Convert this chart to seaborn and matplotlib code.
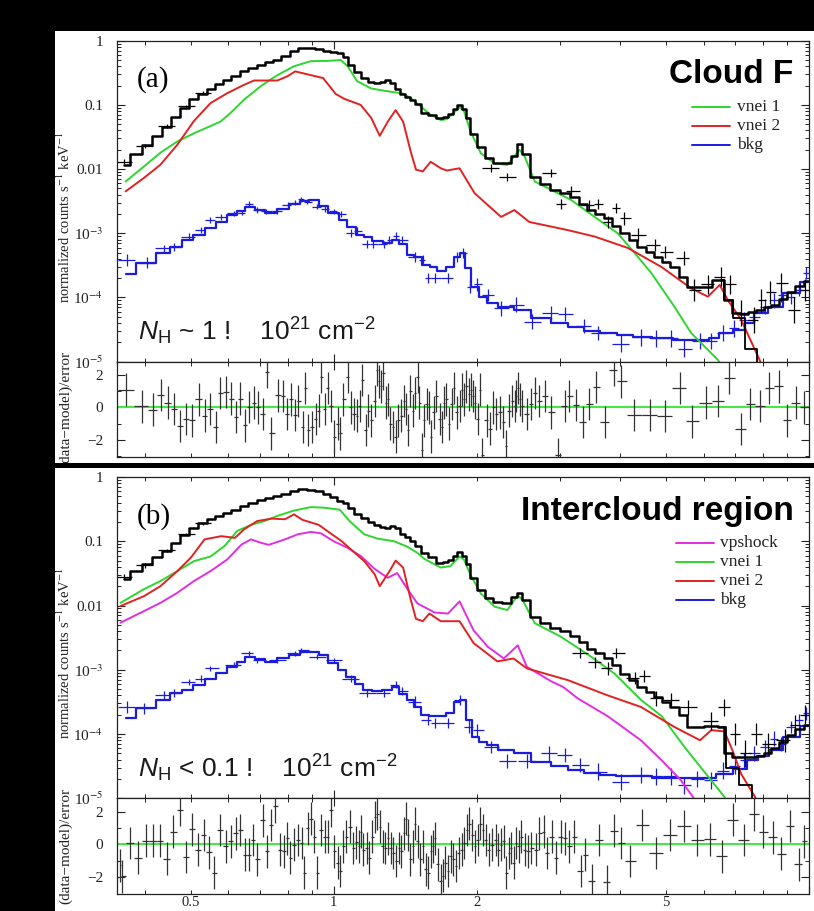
import numpy as np
import matplotlib
matplotlib.use("Agg")
import matplotlib.pyplot as plt
from matplotlib import ticker
from matplotlib.patches import Rectangle
import seaborn as sns

# ---------------- panel (a): Cloud F ----------------
# model components (keV, normalized counts s^-1 keV^-1)
vnei1_a_e = [0.365, 0.399, 0.432, 0.469, 0.508, 0.551, 0.578, 0.607, 0.648, 0.702,
             0.761, 0.825, 0.895, 0.970, 1.035, 1.07, 1.12, 1.20, 1.30, 1.40,
             1.452, 1.526, 1.60, 1.68, 1.73, 1.84, 1.88, 1.94, 2.04, 2.18,
             2.32, 2.46, 2.52, 2.65, 2.92, 3.16, 3.54, 3.96, 4.30, 4.66,
             5.21, 5.65, 6.43, 6.6]
vnei1_a_v = [0.0064, 0.011, 0.018, 0.027, 0.036, 0.047, 0.055, 0.075, 0.121, 0.195,
             0.29, 0.40, 0.48, 0.485, 0.50, 0.40, 0.235, 0.18, 0.163, 0.15,
             0.128, 0.094, 0.07, 0.058, 0.06, 0.092, 0.08, 0.039, 0.0176, 0.0123,
             0.0116, 0.020, 0.016, 0.0064, 0.00445, 0.0033, 0.0018, 0.001, 0.00049, 0.00024,
             7.2e-5, 2.8e-5, 1.07e-5, 8e-6]

vnei2_a_e = [0.365, 0.399, 0.432, 0.469, 0.508, 0.551, 0.597, 0.648, 0.68, 0.73,
             0.761, 0.80, 0.83, 0.88, 0.95, 1.01, 1.051, 1.14, 1.20, 1.25,
             1.30, 1.35, 1.40, 1.452, 1.49, 1.54, 1.60, 1.68, 1.73, 1.84,
             1.98, 2.25, 2.40, 2.58, 3.11, 3.54, 4.16, 4.89, 5.65, 6.13,
             6.49, 6.75, 7.2, 7.87, 8.0]
vnei2_a_v = [0.0045, 0.0073, 0.0117, 0.024, 0.056, 0.107, 0.152, 0.206, 0.24, 0.24,
             0.24, 0.28, 0.333, 0.30, 0.262, 0.148, 0.125, 0.10, 0.0625, 0.033,
             0.055, 0.083, 0.055, 0.0189, 0.0098, 0.0092, 0.013, 0.0103, 0.0095, 0.0103,
             0.0042, 0.0018, 0.0023, 0.0015, 0.00112, 0.00089, 0.00059, 0.0003, 0.000139, 0.000103,
             0.000157, 9.1e-5, 4.5e-5, 1.07e-5, 8e-6]

# background model (step)
bkg_a_e = [0.365, 0.404, 0.44, 0.467, 0.494, 0.52, 0.55, 0.58, 0.61, 0.64,
           0.663, 0.70, 0.737, 0.78, 0.83, 0.87, 0.909, 0.95, 1.0, 1.05,
           1.086, 1.14, 1.177, 1.236, 1.30, 1.35, 1.40, 1.45, 1.50, 1.574,
           1.62, 1.68, 1.77, 1.82, 1.87, 1.91, 1.98, 2.06, 2.14, 2.3,
           2.48, 2.73, 3.0, 3.21, 3.5, 3.78, 4.1, 4.44, 4.9, 5.47,
           6.0, 6.32, 6.64, 7.2, 7.44, 7.92, 8.46, 9.17, 9.97]
bkg_a_v = [0.000235, 0.00034, 0.00049, 0.00062, 0.00078, 0.00095, 0.0012, 0.0015, 0.0019, 0.0022,
           0.0026, 0.0023, 0.00205, 0.0024, 0.0029, 0.0032, 0.0033, 0.0027, 0.0021, 0.0016,
           0.00127, 0.00095, 0.00089, 0.00075, 0.0007, 0.0008, 0.00067, 0.00046, 0.00042, 0.00032,
           0.0003, 0.00026, 0.0003, 0.00043, 0.0005, 0.00029, 0.000147, 0.0001, 8.1e-5, 7e-5,
           6.4e-5, 4.8e-5, 4e-5, 3.5e-5, 3.0e-5, 2.75e-5, 2.6e-5, 2.45e-5, 2.3e-5, 2.2e-5,
           2.2e-5, 2.3e-5, 2.75e-5, 3.1e-5, 4.0e-5, 5.7e-5, 7.2e-5, 0.000118, 0.000177]

# total model (step), same bins for both panels
tot_e = [0.362, 0.385, 0.405, 0.425, 0.445, 0.465, 0.485, 0.508, 0.53, 0.551,
         0.575, 0.597, 0.62, 0.648, 0.675, 0.702, 0.73, 0.761, 0.79, 0.825,
         0.86, 0.895, 0.93, 0.965, 1.0, 1.035, 1.06, 1.085, 1.12, 1.16,
         1.2, 1.236, 1.27, 1.30, 1.33, 1.36, 1.40, 1.43, 1.47, 1.50,
         1.553, 1.61, 1.68, 1.72, 1.76, 1.80, 1.84, 1.88, 1.91, 1.96,
         2.04, 2.12, 2.21, 2.32, 2.40, 2.46, 2.52, 2.65, 2.78, 2.92,
         3.06, 3.21, 3.35, 3.48, 3.63, 3.78, 3.93, 4.09, 4.26, 4.44,
         4.62, 4.81, 5.0, 5.21, 5.43, 5.65, 5.9, 6.13, 6.36, 6.52,
         6.75, 7.0, 7.3, 7.6, 7.9, 8.2, 8.46, 8.8, 9.17, 9.55, 9.97]
tot_a_v = [0.0117, 0.017, 0.024, 0.033, 0.045, 0.065, 0.09, 0.125, 0.15, 0.18,
           0.21, 0.245, 0.28, 0.333, 0.38, 0.423, 0.46, 0.50, 0.58, 0.70,
           0.77, 0.77, 0.74, 0.70, 0.67, 0.65, 0.55, 0.423, 0.32, 0.262,
           0.23, 0.22, 0.23, 0.245, 0.22, 0.18, 0.15, 0.135, 0.12, 0.105,
           0.074, 0.07, 0.062, 0.065, 0.073, 0.085, 0.1, 0.085, 0.062, 0.035,
           0.022, 0.015, 0.0123, 0.0123, 0.016, 0.025, 0.017, 0.0076, 0.0058, 0.0047,
           0.0042, 0.0037, 0.0029, 0.0023, 0.002, 0.0017, 0.0013, 0.001, 0.0008, 0.00062,
           0.00052, 0.00043, 0.00036, 0.0003, 0.00021, 0.000147, 0.000147, 0.000147, 0.000187, 0.000187,
           9.1e-5, 5.8e-5, 5.6e-5, 6.0e-5, 6.3e-5, 7.0e-5, 7.6e-5, 9.5e-5, 0.00012, 0.00015, 0.00018]
src_a_e = [6.52, 6.75, 7.08, 7.6, 7.95]
src_a_v = [0.000187, 9.1e-5, 4.8e-5, 1.6e-5, 8e-6]

# source data (black crosses) and background data (blue crosses)
dat_a_e = [0.362, 0.40, 0.445, 0.49, 0.53, 2.14, 2.32, 2.86, 3.01, 3.16,
           3.45, 3.6, 3.77, 3.93, 4.09, 4.37, 4.74, 4.97, 5.47, 5.74,
           6.13, 6.52, 6.83, 7.2, 7.67, 7.92, 8.3, 8.74, 9.32, 9.8]
dat_a_v = [0.013, 0.023, 0.047, 0.095, 0.155, 0.0103, 0.0076, 0.0086, 0.0029, 0.0045,
           0.0028, 0.0029, 0.0015, 0.0025, 0.0017, 0.00095, 0.00066, 0.00051, 0.00041, 0.00013,
           0.00016, 0.00021, 0.00016, 5.7e-5, 4.5e-5, 9e-5, 1.2e-4, 1.7e-4, 6.4e-5, 1.3e-4]
dat_a_f = [0.1, 0.08, 0.06, 0.05, 0.05, 0.15, 0.15, 0.15, 0.2, 0.2,
           0.2, 0.2, 0.25, 0.2, 0.25, 0.25, 0.25, 0.25, 0.3, 0.5,
           0.4, 0.4, 0.4, 0.6, 0.6, 0.5, 0.5, 0.4, 0.6, 0.5]

bkgd_a_e = [0.367, 0.405, 0.439, 0.461, 0.496, 0.525, 0.55, 0.578, 0.617, 0.64,
            0.663, 0.69, 0.72, 0.761, 0.8, 0.83, 0.852, 0.88, 0.924, 0.96,
            1.0, 1.035, 1.086, 1.12, 1.177, 1.21, 1.276, 1.31, 1.35, 1.39,
            1.48, 1.54, 1.58, 1.63, 1.74, 1.82, 1.87, 1.94, 2.0, 2.11,
            2.25, 2.42, 2.62, 2.86, 3.06, 3.37, 3.6, 4.02, 4.43, 4.77,
            5.12, 5.47, 5.89, 6.23, 6.59, 6.97, 7.3, 7.67, 8.1, 8.46,
            8.75, 9.17, 9.55, 9.88]
bkgd_a_v = [0.00038, 0.00035, 0.00058, 0.00062, 0.00089, 0.00112, 0.00161, 0.0018, 0.00205, 0.0021,
            0.0029, 0.0023, 0.0022, 0.0022, 0.0028, 0.003, 0.0034, 0.0031, 0.0026, 0.0024,
            0.0022, 0.002, 0.001, 0.0011, 0.00069, 0.00067, 0.00067, 0.00078, 0.00091, 0.00078,
            0.00043, 0.00038, 0.0002, 0.0002, 0.0002, 0.00043, 0.0005, 0.000148, 0.00016, 0.00011,
            6.8e-5, 7.7e-5, 4.2e-5, 5.7e-5, 5.5e-5, 3.6e-5, 2.8e-5, 1.9e-5, 2.4e-5, 2.3e-5,
            2.3e-5, 1.6e-5, 2.1e-5, 2.1e-5, 2.8e-5, 3.3e-5, 4.4e-5, 5e-5, 7.2e-5, 9e-5,
            1.1e-4, 1.0e-4, 1.3e-4, 2.4e-4]
bkgd_a_f = [0.25, 0.2, 0.15, 0.15, 0.12, 0.12, 0.1, 0.1, 0.1, 0.1,
            0.1, 0.1, 0.1, 0.1, 0.1, 0.1, 0.1, 0.1, 0.1, 0.1,
            0.1, 0.1, 0.15, 0.15, 0.15, 0.15, 0.15, 0.15, 0.15, 0.15,
            0.2, 0.2, 0.2, 0.2, 0.2, 0.2, 0.2, 0.25, 0.25, 0.25,
            0.3, 0.3, 0.3, 0.3, 0.3, 0.3, 0.3, 0.35, 0.35, 0.35,
            0.35, 0.35, 0.35, 0.35, 0.35, 0.35, 0.35, 0.3, 0.3, 0.3,
            0.3, 0.25, 0.25, 0.25]

# residuals (data-model)/error
res_a_e = [0.366, 0.395, 0.417, 0.433, 0.448, 0.462, 0.475, 0.489, 0.503, 0.520,
           0.535, 0.549, 0.565, 0.577, 0.594, 0.609, 0.623, 0.636, 0.650, 0.665,
           0.679, 0.694, 0.709, 0.725, 0.738, 0.765, 0.782, 0.799, 0.813, 0.829,
           0.843, 0.862, 0.871, 0.885, 0.900, 0.916, 0.930, 0.940, 0.957, 0.971,
           0.986, 1.003, 1.019, 1.032, 1.048, 1.071, 1.085, 1.106, 1.118, 1.136,
           1.148, 1.168, 1.181, 1.199, 1.220, 1.235, 1.246, 1.260, 1.273, 1.287,
           1.301, 1.315, 1.335, 1.350, 1.368, 1.389, 1.404, 1.419, 1.435, 1.450,
           1.470, 1.482, 1.502, 1.515, 1.535, 1.548, 1.568, 1.589, 1.603, 1.624,
           1.645, 1.670, 1.688, 1.707, 1.725, 1.748, 1.771, 1.794, 1.814, 1.842,
           1.862, 1.882, 1.903, 1.923, 1.944, 1.965, 1.987, 2.008, 2.034, 2.052,
           2.097, 2.133, 2.166, 2.199, 2.238, 2.276, 2.301, 2.336, 2.377, 2.403,
           2.424, 2.440, 2.466, 2.493, 2.547, 2.603, 2.649, 2.706, 2.778, 2.870,
           2.965, 3.062, 3.130, 3.233, 3.339, 3.450, 3.563, 3.721, 3.887, 4.015,
           4.283, 4.622, 4.986, 5.345, 5.679, 6.063, 6.441, 6.800, 7.211, 7.530,
           7.880, 8.260, 8.650, 9.010, 9.370, 9.780]
res_a_v = [1.1, 0.06, -0.14, 0.76, 0.3, -0.1, -1.14, -0.7, -0.8, 0.5,
           -0.5, -0.1, -1.2, 0.9, 0.94, 0.54, -0.6, 0.54, -1.1, 0.04,
           0.3, 0.0, -0.4, 2.2, -1.6, 0.74, 0.7, -0.4, 0.5, -0.46,
           0.4, -1.2, 1.2, -1.4, -1.2, -0.7, -0.2, 1.9, -0.1, 1.2,
           0.1, -1.8, -1.0, -1.6, 0.5, 1.9, 0.0, -0.4, -0.5, 0.1,
           1.7, -1.4, -0.2, -0.8, 0.4, 2.3, 1.6, 1.3, 2.1, 0.3,
           0.5, -1.0, -1.2, -1.8, -0.8, -0.5, 0.4, -0.1, -1.4, 1.0,
           -0.2, 0.9, 1.9, 0.3, -2.6, -0.8, 0.2, 0.0, -1.8, -0.3,
           0.7, -0.7, -1.2, 0.3, 0.5, -1.0, 0.2, 1.2, -0.3, 0.1,
           1.1, 0.5, 1.3, 0.8, 1.1, 0.7, 0.3, -0.7, 1.1, -2.9,
           -0.8, -1.3, 0.0, -0.4, -0.3, -0.9, -2.4, -0.2, 0.4, 0.1,
           0.7, 1.2, 0.5, 0.1, -0.4, 0.2, 0.9, 0.4, 0.7, -0.3,
           -2.9, 0.1, 0.7, 0.14, -0.9, 0.2, 1.26, -0.9, 2.3, 1.6,
           -0.46, -0.46, -0.54, 1.2, -0.86, 0.3, 0.4, 1.8, -1.34, 0.2,
           0.1, 1.2, 1.3, -0.8, 0.3, 0.0]

# ---------------- panel (b): Intercloud region ----------------
vpshock_b_e = [0.356, 0.399, 0.432, 0.469, 0.508, 0.551, 0.597, 0.64, 0.67, 0.702,
               0.73, 0.79, 0.84, 0.895, 0.94, 1.0, 1.07, 1.14, 1.22, 1.30,
               1.36, 1.43, 1.50, 1.63, 1.74, 1.84, 1.97, 2.11, 2.28, 2.44,
               2.55, 2.87, 3.04, 3.26, 3.77, 4.43, 4.9, 5.38, 5.7, 5.8]
vpshock_b_v = [0.0054, 0.0082, 0.011, 0.0158, 0.024, 0.0344, 0.052, 0.089, 0.107, 0.095,
               0.088, 0.107, 0.128, 0.14, 0.133, 0.10, 0.079, 0.059, 0.037, 0.027,
               0.032, 0.018, 0.0108, 0.0078, 0.0075, 0.0116, 0.0041, 0.00228, 0.0015, 0.0024,
               0.00111, 0.00066, 0.00054, 0.00036, 0.00019, 8.0e-5, 3.9e-5, 1.9e-5, 1.05e-5, 8e-6]

vnei1_b_e = [0.356, 0.399, 0.432, 0.469, 0.508, 0.551, 0.59, 0.627, 0.67, 0.715,
             0.761, 0.825, 0.895, 0.955, 1.03, 1.08, 1.16, 1.236, 1.34, 1.43,
             1.50, 1.553, 1.61, 1.68, 1.76, 1.84, 1.88, 1.94, 2.04, 2.18,
             2.32, 2.44, 2.50, 2.65, 3.0, 3.48, 3.9, 4.43, 4.9, 5.47,
             6.13, 6.64, 6.8]
vnei1_b_v = [0.011, 0.018, 0.024, 0.0344, 0.049, 0.058, 0.085, 0.145, 0.18, 0.206,
             0.248, 0.30, 0.34, 0.333, 0.31, 0.206, 0.128, 0.11, 0.10, 0.082,
             0.066, 0.053, 0.046, 0.039, 0.041, 0.058, 0.052, 0.03, 0.0154, 0.0096,
             0.0085, 0.0145, 0.012, 0.0053, 0.0033, 0.0016, 0.00087, 0.00034, 0.00019, 6.3e-5,
             2.2e-5, 1.05e-5, 8e-6]

vnei2_b_e = [0.356, 0.399, 0.432, 0.469, 0.50, 0.535, 0.58, 0.62, 0.648, 0.69,
             0.74, 0.79, 0.825, 0.86, 0.93, 0.97, 1.04, 1.10, 1.16, 1.22,
             1.25, 1.31, 1.35, 1.40, 1.45, 1.49, 1.54, 1.59, 1.68, 1.84,
             1.97, 2.21, 2.39, 2.55, 3.11, 3.77, 4.43, 5.21, 5.9, 6.23,
             6.64, 6.9, 7.2, 7.7, 7.8]
vnei2_b_v = [0.0098, 0.014, 0.020, 0.0344, 0.055, 0.107, 0.12, 0.113, 0.153, 0.206,
             0.225, 0.22, 0.262, 0.215, 0.18, 0.144, 0.10, 0.069, 0.049, 0.0305,
             0.020, 0.034, 0.05, 0.039, 0.013, 0.0062, 0.0057, 0.0075, 0.0057, 0.0057,
             0.0026, 0.00135, 0.0015, 0.00105, 0.00069, 0.0004, 0.000264, 0.000129, 8.0e-5, 0.000115,
             0.00011, 5.6e-5, 2.4e-5, 1.05e-5, 8e-6]

bkg_b_e = [0.365, 0.404, 0.44, 0.467, 0.494, 0.52, 0.55, 0.58, 0.61, 0.64,
           0.663, 0.70, 0.737, 0.78, 0.83, 0.87, 0.909, 0.95, 1.0, 1.04,
           1.086, 1.13, 1.177, 1.23, 1.30, 1.35, 1.40, 1.45, 1.50, 1.553,
           1.62, 1.68, 1.77, 1.82, 1.87, 1.93, 1.98, 2.06, 2.14, 2.3,
           2.48, 2.73, 3.0, 3.21, 3.5, 3.77, 4.1, 4.43, 4.9, 5.5,
           6.13, 6.64, 7.2, 7.65, 8.0, 8.46, 9.17, 9.95]
bkg_b_v = [0.000175, 0.00025, 0.00034, 0.00043, 0.00048, 0.00058, 0.00072, 0.0009, 0.0011, 0.0013,
           0.0016, 0.00145, 0.00133, 0.0015, 0.0017, 0.0019, 0.0019, 0.0017, 0.00126, 0.001,
           0.00078, 0.0006, 0.00048, 0.00046, 0.00048, 0.00054, 0.00042, 0.00034, 0.00026, 0.0002,
           0.00019, 0.00019, 0.00021, 0.00032, 0.00034, 0.000164, 9e-5, 7.5e-5, 6.7e-5, 5.7e-5,
           5.0e-5, 3.7e-5, 3.2e-5, 2.75e-5, 2.5e-5, 2.3e-5, 2.25e-5, 2.2e-5, 2.1e-5, 2.1e-5,
           2.1e-5, 2.4e-5, 2.9e-5, 3.9e-5, 4.6e-5, 5.6e-5, 9e-5, 0.000135]

tot_b_v = [0.026, 0.035, 0.044, 0.057, 0.07, 0.095, 0.125, 0.163, 0.19, 0.22,
           0.25, 0.28, 0.31, 0.35, 0.40, 0.44, 0.47, 0.50, 0.55, 0.61,
           0.64, 0.63, 0.60, 0.55, 0.49, 0.43, 0.39, 0.33, 0.27, 0.23,
           0.20, 0.18, 0.165, 0.163, 0.17, 0.16, 0.13, 0.115, 0.1, 0.083,
           0.065, 0.057, 0.046, 0.047, 0.052, 0.06, 0.067, 0.058, 0.045, 0.027,
           0.0175, 0.013, 0.0115, 0.011, 0.0135, 0.0154, 0.012, 0.0066, 0.0053, 0.0045,
           0.004, 0.0033, 0.0027, 0.0021, 0.0018, 0.00152, 0.0012, 0.00087, 0.0007, 0.00054,
           0.00045, 0.00038, 0.00032, 0.000264, 0.0002, 0.000129, 0.000129, 0.000135, 0.000135, 0.000129,
           5.0e-5, 4.4e-5, 4.4e-5, 4.4e-5, 4.6e-5, 5.0e-5, 6.0e-5, 7.5e-5, 9.5e-5, 0.00012, 0.00014]
src_b_e = [6.52, 6.85, 7.4, 7.75]
src_b_v = [0.000129, 3.0e-5, 1.6e-5, 8e-6]

dat_b_e = [0.362, 0.40, 0.445, 0.49, 0.53, 3.3, 3.55, 3.77, 3.93, 4.3,
           4.5, 4.77, 5.12, 5.57, 6.23, 6.64, 7.0, 7.35, 7.75, 8.2,
           8.9, 9.35, 9.8]
dat_b_v = [0.028, 0.042, 0.072, 0.13, 0.19, 0.0018, 0.0013, 0.00105, 0.0018, 0.00075,
           0.0008, 0.00036, 0.00034, 0.00026, 0.00016, 0.00026, 0.0001, 5e-5, 0.0001, 7e-5,
           8e-5, 0.00014, 0.0002]
dat_b_f = [0.1, 0.08, 0.06, 0.05, 0.05, 0.2, 0.2, 0.25, 0.2, 0.25,
           0.25, 0.3, 0.3, 0.3, 0.4, 0.35, 0.5, 0.6, 0.5, 0.5,
           0.5, 0.4, 0.4]

bkgd_b_e = [0.367, 0.399, 0.439, 0.461, 0.496, 0.525, 0.55, 0.617, 0.663, 0.69,
            0.761, 0.83, 0.852, 0.924, 1.0, 1.086, 1.177, 1.276, 1.35, 1.39,
            1.48, 1.58, 1.63, 1.74, 1.84, 1.93, 2.0, 2.14, 2.32, 2.55,
            2.84, 3.06, 3.3, 3.6, 4.02, 4.43, 4.77, 5.12, 5.47, 5.82,
            6.23, 6.59, 7.0, 7.3, 7.67, 8.1, 8.46, 8.75, 9.17, 9.55,
            9.88]
bkgd_b_v = [0.000265, 0.00025, 0.0004, 0.00043, 0.00065, 0.00073, 0.00105, 0.0012, 0.0018, 0.0014,
            0.0014, 0.0018, 0.002, 0.0016, 0.0014, 0.00073, 0.00043, 0.00043, 0.00059, 0.00047,
            0.00032, 0.000164, 0.00015, 0.00015, 0.00034, 0.00013, 0.000115, 6.3e-5, 3.8e-5, 3.8e-5,
            5.0e-5, 4.7e-5, 3.3e-5, 2.6e-5, 1.8e-5, 2.3e-5, 2.2e-5, 2.2e-5, 1.6e-5, 2.0e-5,
            1.9e-5, 2.7e-5, 3.2e-5, 3.9e-5, 5e-5, 6.3e-5, 8.5e-5, 7e-5, 0.000129, 0.000164,
            0.00021]
bkgd_b_f = [0.25, 0.2, 0.15, 0.15, 0.12, 0.12, 0.1, 0.1, 0.1, 0.1,
            0.1, 0.1, 0.1, 0.1, 0.1, 0.15, 0.15, 0.15, 0.15, 0.15,
            0.2, 0.2, 0.2, 0.2, 0.2, 0.25, 0.25, 0.25, 0.3, 0.3,
            0.3, 0.3, 0.3, 0.35, 0.35, 0.35, 0.35, 0.35, 0.35, 0.35,
            0.35, 0.35, 0.35, 0.3, 0.3, 0.3, 0.3, 0.3, 0.25, 0.25,
            0.25]

res_b_e = [0.356, 0.358, 0.372, 0.388, 0.402, 0.417, 0.431, 0.445, 0.460, 0.475,
           0.489, 0.503, 0.518, 0.533, 0.547, 0.561, 0.577, 0.594, 0.607, 0.623,
           0.636, 0.650, 0.665, 0.676, 0.691, 0.709, 0.725, 0.738, 0.754, 0.770,
           0.787, 0.799, 0.808, 0.825, 0.840, 0.858, 0.868, 0.881, 0.896, 0.910,
           0.924, 0.940, 0.957, 0.971, 0.986, 1.003, 1.019, 1.032, 1.048, 1.064,
           1.083, 1.099, 1.114, 1.131, 1.143, 1.155, 1.173, 1.188, 1.206, 1.220,
           1.235, 1.252, 1.268, 1.285, 1.301, 1.318, 1.335, 1.354, 1.371, 1.389,
           1.407, 1.419, 1.435, 1.450, 1.470, 1.482, 1.502, 1.522, 1.541, 1.562,
           1.582, 1.603, 1.617, 1.635, 1.656, 1.678, 1.696, 1.719, 1.741, 1.763,
           1.786, 1.810, 1.834, 1.858, 1.882, 1.907, 1.931, 1.957, 1.983, 2.009,
           2.035, 2.062, 2.088, 2.121, 2.153, 2.191, 2.220, 2.249, 2.278, 2.308,
           2.338, 2.363, 2.390, 2.421, 2.452, 2.484, 2.523, 2.561, 2.606, 2.664,
           2.710, 2.770, 2.811, 2.873, 2.936, 3.001, 3.065, 3.133, 3.202, 3.308,
           3.381, 3.493, 3.609, 3.753, 3.894, 4.022, 4.200, 4.462, 4.764, 5.105,
           5.472, 5.813, 6.206, 6.551, 6.917, 7.303, 7.676, 8.017, 8.406, 8.743,
           9.130, 9.513, 9.780]
res_b_v = [-1.28, -1.96, 0.08, -0.82, 0.24, 0.24, 0.24, -0.88, 0.78, 2.12,
           -0.76, 0.92, -0.32, 0.58, -0.48, -1.72, 0.88, -0.12, 0.18, 0.68,
           0.88, -0.62, -0.62, 0.28, -0.92, 1.48, -0.42, 1.18, 2.32, -0.32,
           -0.42, 0.38, -0.82, -0.02, 0.28, 0.08, -1.72, 0.98, 1.58, 0.48,
           -1.72, 0.88, 0.48, 0.48, 2.08, -0.42, -1.12, -1.62, -0.12, 0.48,
           1.08, -0.22, 0.12, -0.12, 0.78, -0.32, -0.22, -0.82, 0.48, 1.68,
           1.88, 1.08, -0.12, -0.22, 0.38, -0.22, -0.52, -1.02, -0.22, -0.42,
           0.68, 1.58, 0.58, -0.92, -0.12, 1.28, 0.18, -0.92, -0.12, -1.52,
           -1.72, -0.42, -0.12, 0.38, -1.22, -2.22, -1.92, -1.12, -1.62, -0.72,
           -0.92, -1.32, -0.52, -0.32, 0.08, 0.88, 1.28, 0.58, -0.12, 0.28,
           1.28, 0.88, 0.28, -0.32, -0.02, 0.28, -0.32, -0.02, 0.18, -1.72,
           -0.52, -0.22, -1.12, 0.08, -0.12, 0.48, -0.32, -0.42, -0.22, -0.32,
           0.68, 0.78, -0.52, 0.48, -0.82, 0.48, 0.38, -0.12, 0.48, -1.62,
           -0.62, -2.22, 0.28, -2.28, 0.84, 0.08, -1.02, 1.18, -0.52, 0.58,
           1.12, 0.28, 0.32, -0.72, 1.52, 0.28, 1.84, 0.78, 0.44, -0.56,
           1.12, -1.22, 0.18]

x_minor = [0.4, 0.5, 0.6, 0.7, 0.8, 0.9, 2, 3, 4, 5, 6, 7, 8, 9]
x_minor_labels = ["", "0.5", "", "", "", "", "2", "", "", "5", "", "", "", ""]
y_ticks = [1e-5, 1e-4, 1e-3, 0.01, 0.1, 1]
y_labels = [r"10$^{-5}$", r"10$^{-4}$", r"10$^{-3}$", "0.01", "0.1", "1"]

GREEN = "#2fd52f"
RED = "#e02222"
BLUE = "#1c1ce0"
MAGENTA = "#e22ee2"
INK = "#222222"

sns.set_theme(style="ticks")
plt.rcParams["font.family"] = ["Liberation Serif", "DejaVu Serif"]
plt.rcParams["mathtext.fontset"] = "custom"
plt.rcParams["mathtext.rm"] = "Liberation Sans"
plt.rcParams["mathtext.it"] = "Liberation Sans:italic"
plt.rcParams["mathtext.bf"] = "Liberation Sans:bold"


def bin_widths(e, cap):
    e = np.asarray(e)
    le = np.log10(e)
    mid = (le[1:] + le[:-1]) / 2
    lo = np.concatenate([[2 * le[0] - mid[0]], mid])
    hi = np.concatenate([mid, [2 * le[-1] - mid[-1]]])
    lo = np.maximum(lo, le - cap)
    hi = np.minimum(hi, le + cap)
    return np.vstack([e - 10 ** lo, 10 ** hi - e])


def crosses(ax, e, v, f, color, lw=0.9):
    v = np.asarray(v)
    f = np.asarray(f)
    yerr = np.vstack([v - v / (1 + f), v * f])
    ax.errorbar(e, v, xerr=bin_widths(e, 0.018), yerr=yerr, fmt="none",
                ecolor=color, elinewidth=lw, capsize=0)


def setup_x(ax, labels):
    ax.set_xscale("log")
    ax.set_xlim(0.35, 10)
    ax.xaxis.set_major_locator(ticker.FixedLocator([1, 10]))
    ax.xaxis.set_minor_locator(ticker.FixedLocator(x_minor))
    if labels:
        ax.xaxis.set_major_formatter(ticker.FixedFormatter(["1", ""]))
        ax.xaxis.set_minor_formatter(ticker.FixedFormatter(x_minor_labels))
    else:
        ax.xaxis.set_major_formatter(ticker.NullFormatter())
        ax.xaxis.set_minor_formatter(ticker.NullFormatter())
    ax.tick_params(which="both", direction="in", top=True, right=True,
                   labelsize=11, pad=5, color=INK, labelcolor=INK)
    ax.tick_params(axis="x", which="both", labelsize=10.5, pad=1.5)
    ax.tick_params(which="major", length=6, width=0.8)
    ax.tick_params(which="minor", length=3.2, width=0.7)
    for s in ax.spines.values():
        s.set_color(INK)
        s.set_linewidth(0.9)


def spectrum(ax, comps, tot_v, src_e, src_v, bkg_e, bkg_v,
             bkgd, dat, tag, name, name_y, nh, legend, leg_x):
    setup_x(ax, False)
    ax.set_yscale("log")
    ax.set_ylim(1e-5, 1)
    ax.set_yticks(y_ticks, labels=y_labels, math_fontfamily="stix")
    ax.yaxis.set_minor_locator(ticker.LogLocator(base=10, subs=np.arange(2, 10), numticks=20))
    ax.yaxis.set_minor_formatter(ticker.NullFormatter())
    ax.tick_params(axis="y", pad=10)

    crosses(ax, *bkgd, BLUE)
    ax.step(bkg_e, bkg_v, where="mid", color=BLUE, lw=1.6)
    for e, v, c in comps:
        sns.lineplot(x=e, y=v, ax=ax, color=c, lw=1.4, estimator=None, sort=False)
    crosses(ax, *dat, "black")
    ax.step(tot_e, tot_v, where="mid", color="black", lw=1.8)
    ax.step(src_e, src_v, where="mid", color="black", lw=1.3)

    ax.set_ylabel(r"normalized counts s$^{-1}$ keV$^{-1}$", fontsize=10.5,
                  math_fontfamily="stix", color=INK)
    ax.yaxis.set_label_coords(-0.064, 0.45)

    ax.text(0.029, 0.878, tag, transform=ax.transAxes, fontsize=21,
            va="center", color="black")
    ax.text(0.978, name_y, name, transform=ax.transAxes, fontsize=24,
            fontweight="bold", family="Liberation Sans", ha="right",
            va="baseline", color="black")
    ax.text(0.030, 0.066, nh, transform=ax.transAxes, fontsize=19,
            family="Liberation Sans", va="baseline", color="#1a1a1a")

    x0, x1, xt = leg_x
    for i, (lab, c) in enumerate(legend):
        y = 0.7935 - i * 0.0585
        ax.plot([x0, x1], [y, y], transform=ax.transAxes, color=c, lw=1.4)
        ax.text(xt, y, lab, transform=ax.transAxes, fontsize=12.5,
                va="center", color=INK)


def residual(ax, e, r, labels):
    setup_x(ax, labels)
    ax.set_ylim(-3.05, 2.82)
    ax.set_yticks([-2, 0, 2], labels=["\u22122", "0", "2"])
    ax.yaxis.set_minor_locator(ticker.FixedLocator([-3, -1, 1]))
    ax.tick_params(axis="y", pad=10)
    ax.axhline(0, color="#45e845", lw=1.5, zorder=1)
    ax.errorbar(e, r, xerr=bin_widths(e, 0.06), yerr=1, fmt="none",
                ecolor="#333333", elinewidth=0.9, capsize=0, zorder=2)
    ax.set_ylabel("(data\u2212model)/error", fontsize=11, color=INK)
    ax.yaxis.set_label_coords(-0.064, 0.5)


fig = plt.figure(figsize=(8.14, 9.11), dpi=100, facecolor="black")
fig.add_artist(Rectangle((0.0676, 0.4918), 0.9324, 0.4742, transform=fig.transFigure,
                         facecolor="white", edgecolor="none", zorder=-1))
fig.add_artist(Rectangle((0.0676, 0.0), 0.9324, 0.4863, transform=fig.transFigure,
                         facecolor="white", edgecolor="none", zorder=-1))

ax_a = fig.add_axes([0.1437, 0.6030, 0.8501, 0.3523])
ax_ar = fig.add_axes([0.1437, 0.4984, 0.8501, 0.1046])
ax_b = fig.add_axes([0.1437, 0.1237, 0.8501, 0.3527])
ax_br = fig.add_axes([0.1437, 0.0183, 0.8501, 0.1054])

spectrum(ax_a,
         [(vnei1_a_e, vnei1_a_v, GREEN), (vnei2_a_e, vnei2_a_v, RED)],
         tot_a_v, src_a_e, src_a_v, bkg_a_e, bkg_a_v,
         (bkgd_a_e, bkgd_a_v, bkgd_a_f), (dat_a_e, dat_a_v, dat_a_f),
         "(a)", "Cloud F", 0.868,
         r"$N_\mathrm{H}$ ~ 1 !    10$^{21}$ cm$^{-2}$",
         [("vnei 1", GREEN), ("vnei 2", RED), ("bkg", BLUE)],
         (0.831, 0.886, 0.896))
residual(ax_ar, res_a_e, res_a_v, False)

spectrum(ax_b,
         [(vpshock_b_e, vpshock_b_v, MAGENTA), (vnei1_b_e, vnei1_b_v, GREEN),
          (vnei2_b_e, vnei2_b_v, RED)],
         tot_b_v, src_b_e, src_b_v, bkg_b_e, bkg_b_v,
         (bkgd_b_e, bkgd_b_v, bkgd_b_f), (dat_b_e, dat_b_v, dat_b_f),
         "(b)", "Intercloud region", 0.866,
         r"$N_\mathrm{H}$ < 0.1 !    10$^{21}$ cm$^{-2}$",
         [("vpshock", MAGENTA), ("vnei 1", GREEN), ("vnei 2", RED), ("bkg", BLUE)],
         (0.808, 0.863, 0.871))
residual(ax_br, res_b_e, res_b_v, True)

# black separator band between the two panels, drawn over everything
fig.add_artist(Rectangle((0.0, 0.4863), 1.0, 0.0055, transform=fig.transFigure,
                         facecolor="black", edgecolor="none", zorder=10))

fig.savefig("out.png", dpi=100, facecolor=fig.get_facecolor())
